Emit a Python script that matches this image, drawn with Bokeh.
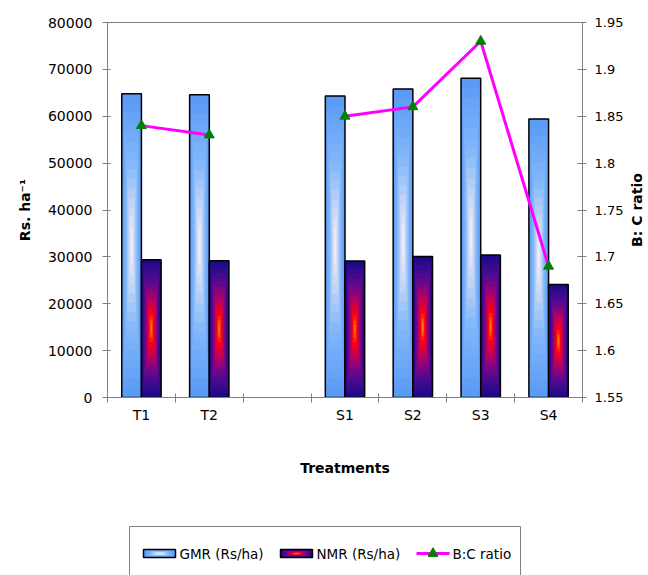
from bokeh.plotting import figure
from bokeh.models import (Range1d, LinearAxis, FixedTicker, NumeralTickFormatter,
                          ColumnDataSource)
from bokeh.core.properties import value
from bokeh.layouts import column, row
from bokeh.embed import file_html
from bokeh.resources import INLINE
import math

# ---- data ----
categories = ["T1", "T2", "", "S1", "S2", "S3", "S4"]
gmr = [64800, 64600, float("nan"), 64300, 65800, 68100, 59400]
nmr = [29400, 29200, float("nan"), 29100, 30100, 30400, 24100]
bc_ratio = [1.84, 1.83, float("nan"), 1.85, 1.86, 1.93, 1.69]
left_ticks = [0, 10000, 20000, 30000, 40000, 50000, 60000, 70000, 80000]
right_ticks = [1.55, 1.6, 1.65, 1.7, 1.75, 1.8, 1.85, 1.9, 1.95]
series_names = ["GMR (Rs/ha)", "NMR (Rs/ha)", "B:C ratio"]
right_title = "B: C ratio"

FONT = "DejaVu Sans"
BW = 0.29  # bar width in category units
N_LAYERS = 16

gmr_stops = [(0.0, "#5b9bf6"), (0.45, "#82b7fa"), (0.75, "#c3d6f6"), (1.0, "#f7ecf6")]
nmr_stops = [(0.0, "#1c0a88"), (0.3, "#560a90"), (0.55, "#a8006e"), (0.82, "#ff0010"), (1.0, "#ff7a00")]


def hex2rgb(h):
    h = h.lstrip("#")
    return tuple(int(h[i:i + 2], 16) for i in (0, 2, 4))


def interp(stops, t):
    for (p0, c0), (p1, c1) in zip(stops[:-1], stops[1:]):
        if t <= p1:
            u = 0 if p1 == p0 else (t - p0) / (p1 - p0)
            a, b = hex2rgb(c0), hex2rgb(c1)
            return "#%02x%02x%02x" % tuple(int(round(a[i] + (b[i] - a[i]) * u)) for i in range(3))
    return stops[-1][1]


centers = [i + 0.5 for i in range(len(categories))]

p = figure(width=626, height=505, output_backend="svg", toolbar_location=None,
           x_range=Range1d(0, len(categories)), y_range=Range1d(0, 80000),
           min_border_left=107, min_border_right=44, min_border_top=22, min_border_bottom=108)
p.extra_y_ranges = {"bc": Range1d(1.55, 1.95)}
p.xgrid.visible = False
p.ygrid.visible = False
p.outline_line_color = "#808080"
p.outline_line_width = 1
p.background_fill_color = "white"
p.border_fill_color = "white"


def gradient_rects(fig, xs_c, bottoms, heights, width, stops, layers):
    """Nested rectangles approximating a centre-out gradient fill."""
    xs, ws, bots, tops, cols = [], [], [], [], []
    for k in range(layers):
        f = 1 - k / layers
        col = interp(stops, k / (layers - 1))
        for c, b0, h in zip(xs_c, bottoms, heights):
            xs.append(c)
            ws.append(width * f)
            bots.append(b0 + h * (1 - f) / 2)
            tops.append(b0 + h * (1 + f) / 2)
            cols.append(col)
    src = ColumnDataSource(dict(x=xs, w=ws, b=bots, t=tops, c=cols))
    fig.vbar(x="x", width="w", bottom="b", top="t", fill_color="c", line_color=None, source=src)


def gradient_bars(values, offset, stops):
    ox = [c + offset for c, v in zip(centers, values) if not math.isnan(v)]
    ov = [v for v in values if not math.isnan(v)]
    gradient_rects(p, ox, [0] * len(ov), ov, BW, stops, N_LAYERS)
    p.vbar(x=ox, width=BW, bottom=0, top=ov, fill_alpha=0, line_color="black", line_width=1.5)


gradient_bars(gmr, -BW / 2, gmr_stops)
gradient_bars(nmr, BW / 2, nmr_stops)

p.line(centers, bc_ratio, y_range_name="bc", line_color="#ff00ff", line_width=3)
p.scatter(centers, bc_ratio, y_range_name="bc", marker="triangle", size=10,
          fill_color="#008000", line_color="#008000")

# axes styling
xa = p.xaxis[0]
xa.ticker = FixedTicker(ticks=centers, minor_ticks=list(range(len(categories) + 1)))
xa.major_label_overrides = {c: lab for c, lab in zip(centers, categories)}
xa.major_tick_in = 0
xa.major_tick_out = 0
xa.minor_tick_in = 4
xa.minor_tick_out = 5
xa.major_label_standoff = 4
xa.axis_label = "Treatments"
xa.axis_label_standoff = 34

ya = p.yaxis[0]
ya.ticker = FixedTicker(ticks=left_ticks)
ya.formatter = NumeralTickFormatter(format="0")
ya.major_tick_in = 3
ya.major_tick_out = 5
ya.major_label_standoff = 10
ya.axis_label = "Rs. ha⁻¹"
ya.axis_label_standoff = 12

ra = LinearAxis(y_range_name="bc", ticker=FixedTicker(ticks=right_ticks),
                formatter=NumeralTickFormatter(format="0.[00]"))
ra.major_tick_in = 5
ra.major_tick_out = 4
ra.major_label_standoff = 8
p.add_layout(ra, "right")

for ax in (xa, ya, ra):
    ax.axis_line_color = "#808080"
    ax.major_tick_line_color = "#808080"
    ax.minor_tick_line_color = "#808080" if ax is xa else None
    ax.major_label_text_font = FONT
    ax.major_label_text_font_size = "14px"
    ax.major_label_text_color = "black"
    ax.axis_label_text_font = FONT
    ax.axis_label_text_font_size = "14px"
    ax.axis_label_text_font_style = "bold"
    ax.axis_label_text_color = "black"
ra.major_label_text_font_size = "13px"

# ---- right-hand axis title strip (reads bottom-to-top) ----
r = figure(width=22, height=505, output_backend="svg", toolbar_location=None,
           x_range=Range1d(0, 22), y_range=p.y_range,
           x_axis_location=None, y_axis_location=None,
           min_border_left=0, min_border_right=0, min_border_top=22, min_border_bottom=108)
r.xgrid.visible = False
r.ygrid.visible = False
r.outline_line_color = None
r.background_fill_color = "white"
r.border_fill_color = "white"
r.text(x=[10], y=[40000], text=[right_title], angle=math.pi / 2, text_align="center",
       text_baseline="middle", text_font=value(FONT), text_font_size="14px",
       text_font_style="bold", text_color="black")

# ---- legend strip below (drawn in screen-pixel coordinates) ----
q = figure(width=648, height=70, output_backend="svg", toolbar_location=None,
           x_range=Range1d(107, 582), y_range=Range1d(0, 70),
           x_axis_location=None, y_axis_location=None,
           min_border_left=107, min_border_right=66, min_border_top=0, min_border_bottom=0)
q.xgrid.visible = False
q.ygrid.visible = False
q.outline_line_color = None
q.background_fill_color = "white"
q.border_fill_color = "white"

LY = 22  # legend row centre
q.quad(left=129, right=520, top=49, bottom=-20, fill_color="white",
       line_color="#808080", line_width=1)
sw_x = [159, 296]
for sx, stops in zip(sw_x, [gmr_stops, nmr_stops]):
    gradient_rects(q, [sx], [LY - 4], [8], 32, stops, 8)
q.rect(x=sw_x, y=[LY, LY], width=32, height=8, fill_alpha=0, line_color="black", line_width=1.5)
q.line(x=[416, 449], y=[LY, LY], line_color="#ff00ff", line_width=3)
q.scatter(x=[432.5], y=[LY], marker="triangle", size=10, fill_color="#008000", line_color="#008000")
q.text(x=[179, 316, 452], y=[LY] * 3, text=series_names, text_baseline="middle",
       text_align="left", text_font=value(FONT), text_font_size="13.5px", text_color="black")

layout = column(row(p, r, spacing=0), q, spacing=0)
open("out.html", "w").write(file_html(layout, INLINE))
